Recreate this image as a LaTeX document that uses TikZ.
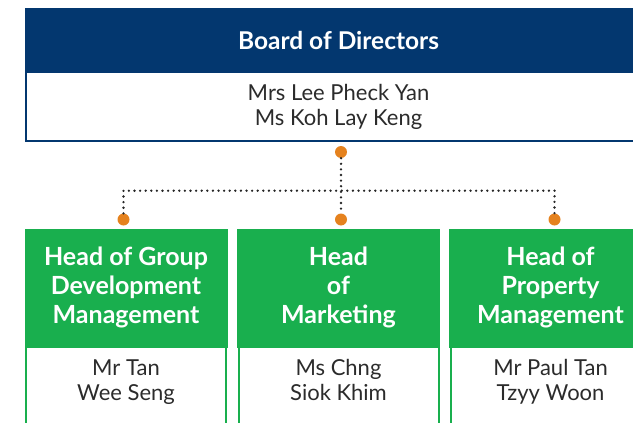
\documentclass[tikz,border=0pt]{standalone}
\usepackage{fontspec}
\setmainfont{Lato}
\definecolor{navy}{HTML}{03376F}
\definecolor{grn}{HTML}{19AF4E}
\definecolor{orng}{HTML}{E5821E}
\definecolor{txt}{HTML}{2B2B2B}
\begin{document}
\begin{tikzpicture}[x=1pt,y=-1pt,
  hdrtext/.style={font=\fontsize{25}{29}\selectfont\bfseries, text=white, align=center, inner sep=0pt},
  nametext/.style={font=\fontsize{22}{25.5}\selectfont, text=txt, align=center, inner sep=0pt},
  dotline/.style={draw=black!85, line width=2.6pt, line cap=round, dash pattern=on 0pt off 5.6pt},
  pin/.style={circle, fill=orng, minimum size=12pt, inner sep=0pt},
  blkbody/.style={fill=white, line width=2pt}]
\useasboundingbox (0,0) rectangle (633,423);
% top box
\draw[blkbody, draw=navy] (26,72) rectangle (650,140.5);
\fill[navy] (25,8) rectangle (651,72.5);
\node[hdrtext, font=\fontsize{24.5}{26}\selectfont\bfseries] (board) at (338.5,40.5) {Board of Directors};
\node[nametext] (boardnames) at (338.5,108) {\strut Mrs Lee Pheck Yan\\\strut Ms Koh Lay Keng};
% green boxes
\foreach \l/\r/\n in {24.5/227.5/a, 237.3/440/b, 449/651.5/c}{
  \draw[blkbody, draw=grn] (\l+1.5,348) -- (\l+1.5,430) (\r-1.3,348) -- (\r-1.3,430);
  \fill[grn] (\l,229) rectangle (\r,348.3);
}
\node[hdrtext] (ha) at (126,288.5) {\strut Head of Group\\\strut Development\\\strut Management};
\node[hdrtext] (hb) at (338.5,288.5) {\strut Head\\\strut of\\\strut Marketing};
\node[hdrtext] (hc) at (550.5,288.5) {\strut Head of\\\strut Property\\\strut Management};
\node[nametext] (na) at (126,383) {\strut Mr Tan\\\strut Wee Seng};
\node[nametext] (nb) at (338.5,383) {\strut Ms Chng\\\strut Siok Khim};
\node[nametext] (nc) at (550.5,383) {\strut Mr Paul Tan\\\strut Tzyy Woon};
% connectors
\node[pin] (ptop) at (341,152) {};
\node[pin] (pa) at (123.5,219.5) {};
\node[pin] (pb) at (341,219.5) {};
\node[pin] (pc) at (554.5,219.5) {};
\coordinate (jl) at (123.5,190.7);
\coordinate (jr) at (554.5,190.7);
\draw[dotline] (ptop) -- (pb);
\draw[dotline] (pa) -- (jl) -- (jr) -- (pc);
\end{tikzpicture}
\end{document}
